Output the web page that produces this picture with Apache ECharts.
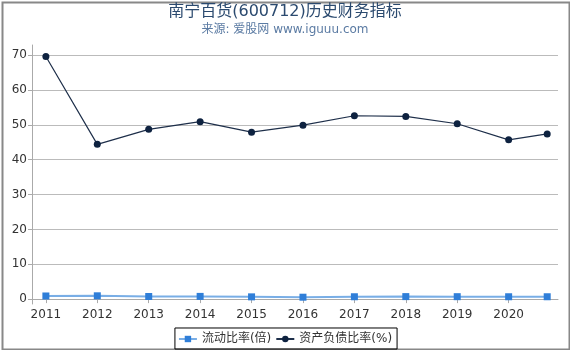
<!DOCTYPE html>
<html>
<head>
<meta charset="utf-8">
<script src="https://cdn.jsdelivr.net/npm/echarts@6/dist/echarts.min.js"></script>
<style>
  body { margin: 0; }
  #main { width: 570px; height: 350px; }
</style>
</head>
<body>
<div id="main"></div>
<script>
// 数据
var years = [2011, 2012, 2013, 2014, 2015, 2016, 2017, 2018, 2019, 2020, 2020.75];
var currentRatio = [0.9, 0.95, 0.75, 0.78, 0.65, 0.55, 0.68, 0.72, 0.7, 0.68, 0.68];
var debtRatio = [69.6, 44.4, 48.7, 50.9, 47.9, 49.9, 52.6, 52.4, 50.3, 45.7, 47.4];
var xTicks = [2011, 2012, 2013, 2014, 2015, 2016, 2017, 2018, 2019, 2020];
var yTicks = [0, 10, 20, 30, 40, 50, 60, 70];

function pairs(xs, ys) {
	var out = [];
	for (var i = 0; i < xs.length; i++) {
		out.push([xs[i], ys[i]]);
	}
	return out;
}

var font = 'DejaVu Sans, Noto Sans CJK SC, sans-serif';

var option = {
	animation: false,
	graphic: [{
		type: 'rect',
		left: 0, top: 0,
		shape: { x: 1, y: 1, width: 567, height: 347 },
		style: { fill: 'none', stroke: '#888', lineWidth: 2 },
		silent: true
	}],
	title: {
		text: '南宁百货(600712)历史财务指标',
		subtext: '来源: 爱股网 www.iguuu.com',
		left: 'center',
		top: -1,
		itemGap: 4,
		textStyle: { fontSize: 16, fontWeight: 'normal', color: '#2b4a6f', fontFamily: font },
		subtextStyle: { fontSize: 12, color: '#5b7ba3', fontFamily: font }
	},
	legend: {
		bottom: 1,
		left: 'center',
		borderColor: '#000',
		borderWidth: 1,
		padding: [5, 5, 4, 3],
		itemGap: 4,
		itemWidth: 18,
		itemHeight: 8,
		textStyle: { fontSize: 12, color: '#333', fontFamily: font },
		data: ['流动比率(倍)', '资产负债比率(%)']
	},
	grid: { left: 32, right: 12, top: 45, bottom: 46 },
	xAxis: {
		type: 'value',
		min: 2010.73,
		max: 2020.96,
		splitLine: { show: false },
		axisLine: { lineStyle: { color: '#aaa' } },
		axisTick: { customValues: xTicks, length: 4, lineStyle: { color: '#aaa' } },
		axisLabel: {
			customValues: xTicks, color: '#333', fontSize: 12, fontFamily: font, margin: 5,
			formatter: function (v) { return String(v); }
		}
	},
	yAxis: {
		type: 'value',
		min: -1.4,
		max: 72.9,
		axisLine: { show: true, lineStyle: { color: '#aaa' } },
		axisTick: { show: true, customValues: yTicks, length: 4, lineStyle: { color: '#aaa' } },
		axisLabel: { customValues: yTicks, color: '#333', fontSize: 12, fontFamily: font, margin: 5 },
		splitLine: { lineStyle: { color: '#bbb' } }
	},
	series: [
		{
			name: '流动比率(倍)',
			type: 'line',
			data: pairs(years, currentRatio),
			symbol: 'rect',
			symbolSize: 7,
			itemStyle: { color: '#2f7ed8' },
			lineStyle: { color: '#79aee6', width: 2 }
		},
		{
			name: '资产负债比率(%)',
			type: 'line',
			data: pairs(years, debtRatio),
			symbol: 'circle',
			symbolSize: 7,
			itemStyle: { color: '#0e2240' },
			lineStyle: { color: '#1e2f4a', width: 1.2 }
		}
	]
};

var myChart = echarts.init(document.getElementById('main'));
myChart.setOption(option);
</script>
</body>
</html>
